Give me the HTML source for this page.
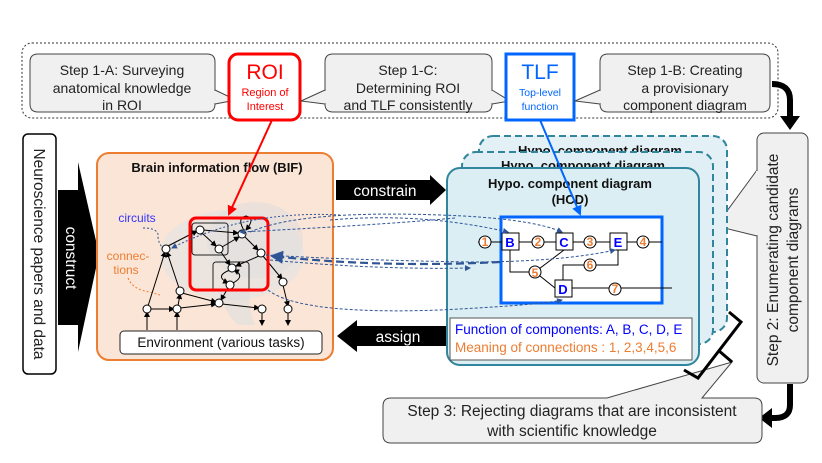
<!DOCTYPE html>
<html><head><meta charset="utf-8"><style>
html,body{margin:0;padding:0;background:#fff}
svg{display:block;font-family:"Liberation Sans",sans-serif}
</style></head><body>
<svg width="822" height="463" viewBox="0 0 822 463" xmlns="http://www.w3.org/2000/svg">
<defs>
<marker id="ab" markerWidth="6" markerHeight="6" refX="5" refY="3" orient="auto"><path d="M0,0 L6,3 L0,6z" fill="#000"/></marker>
<marker id="ad" markerWidth="6" markerHeight="6" refX="5" refY="3" orient="auto"><path d="M0,0 L6,3 L0,6z" fill="#2f5597"/></marker>
<marker id="ar" markerWidth="5" markerHeight="5" refX="4" refY="2.5" orient="auto"><path d="M0,0 L5,2.5 L0,5z" fill="#f00"/></marker>
<marker id="abl" markerWidth="5" markerHeight="5" refX="4" refY="2.5" orient="auto"><path d="M0,0 L5,2.5 L0,5z" fill="#0066ff"/></marker>
</defs>

<rect x="22" y="43" width="756" height="75" rx="10" fill="none" stroke="#333" stroke-dasharray="2,2"/>

<path d="M38,54 H207 Q215,54 215,62 V104 Q215,112 207,112 H38 Q30,112 30,104 V62 Q30,54 38,54Z" fill="#f0f0f0" stroke="#444"/>
<path d="M215,90 L236,100 L215,104" fill="#f0f0f0" stroke="#444"/>
<rect x="213" y="91" width="3" height="12" fill="#f0f0f0"/>
<text x="122" y="75" font-size="14" text-anchor="middle" fill="#222">Step 1-A: Surveying</text>
<text x="122" y="93" font-size="14" text-anchor="middle" fill="#222">anatomical knowledge</text>
<text x="122" y="110" font-size="14" text-anchor="middle" fill="#222">in ROI</text>

<rect x="229" y="54" width="71" height="66" rx="9" fill="#fff" stroke="#f00" stroke-width="3"/>
<text x="265" y="79" font-size="21" text-anchor="middle" fill="#f00">ROI</text>
<text x="265" y="96" font-size="11" text-anchor="middle" fill="#f00">Region of</text>
<text x="265" y="110" font-size="11" text-anchor="middle" fill="#f00">Interest</text>

<path d="M333,54 H484 Q492,54 492,62 V104 Q492,112 484,112 H333 Q325,112 325,104 V62 Q325,54 333,54Z" fill="#f0f0f0" stroke="#444"/>
<path d="M325,90 L301,101 L325,104" fill="#f0f0f0" stroke="#444"/>
<rect x="324" y="91" width="3" height="12" fill="#f0f0f0"/>
<path d="M492,90 L510,101 L492,104" fill="#f0f0f0" stroke="#444"/>
<rect x="490" y="91" width="3" height="12" fill="#f0f0f0"/>
<text x="408" y="75" font-size="14" text-anchor="middle" fill="#222">Step 1-C:</text>
<text x="408" y="93" font-size="14" text-anchor="middle" fill="#222">Determining ROI</text>
<text x="408" y="110" font-size="14" text-anchor="middle" fill="#222">and TLF consistently</text>

<rect x="506" y="54" width="68" height="66" fill="#fff" stroke="#0066ff" stroke-width="3"/>
<text x="540" y="79" font-size="21" text-anchor="middle" fill="#0066ff">TLF</text>
<text x="540" y="96" font-size="10.5" text-anchor="middle" fill="#0066ff">Top-level</text>
<text x="540" y="110" font-size="10.5" text-anchor="middle" fill="#0066ff">function</text>

<path d="M608,54 H762 Q770,54 770,62 V104 Q770,112 762,112 H608 Q600,112 600,104 V62 Q600,54 608,54Z" fill="#f0f0f0" stroke="#444"/>
<path d="M600,90 L575,101 L600,104" fill="#f0f0f0" stroke="#444"/>
<rect x="599" y="91" width="3" height="12" fill="#f0f0f0"/>
<text x="685" y="75" font-size="14" text-anchor="middle" fill="#222">Step 1-B: Creating</text>
<text x="685" y="93" font-size="14" text-anchor="middle" fill="#222">a provisionary</text>
<text x="685" y="110" font-size="14" text-anchor="middle" fill="#222">component diagram</text>

<path d="M772,84 Q790,84 790,100 V118" fill="none" stroke="#000" stroke-width="6"/>
<path d="M780,116 L800,116 L790,130Z" fill="#000"/>

<rect x="757" y="133" width="51" height="250" rx="7" fill="#f0f0f0" stroke="#444"/>
<path d="M757,170 L716,226 L757,236" fill="#f0f0f0" stroke="#444"/>
<rect x="756" y="171" width="3" height="64" fill="#f0f0f0"/>
<text transform="translate(778,260) rotate(-90)" font-size="15.5" text-anchor="middle" fill="#222">Step 2: Enumerating candidate</text>
<text transform="translate(798,260) rotate(-90)" font-size="15.5" text-anchor="middle" fill="#222">component diagrams</text>

<path d="M790,384 V405 Q790,418 775,418 H770" fill="none" stroke="#000" stroke-width="6"/>
<path d="M772,408 L772,428 L759,418Z" fill="#000"/>

<rect x="23" y="134" width="33" height="240" rx="5" fill="#fff" stroke="#000" stroke-width="1.5"/>
<text transform="translate(34,254) rotate(90)" font-size="15.5" text-anchor="middle" fill="#222">Neuroscience papers and data</text>
<path d="M58,190 H78 V162 L99,254 L78,352 V325 H58Z" fill="#000"/>
<text transform="translate(66,258) rotate(90)" font-size="15.5" text-anchor="middle" fill="#fff">construct</text>

<rect x="97" y="153" width="236" height="207" rx="12" fill="#fbe5d6" stroke="#ed7d31" stroke-width="2"/>
<text x="217" y="172" font-size="13" font-weight="bold" text-anchor="middle" fill="#111">Brain information flow (BIF)</text>
<ellipse cx="232" cy="255" rx="72" ry="45" fill="#e2e2e2" opacity="0.6"/>
<ellipse cx="255" cy="240" rx="48" ry="38" fill="#dedede" opacity="0.5"/>
<path d="M218,290 Q226,315 238,325 L255,325 Q248,308 250,292Z" fill="#dedede" opacity="0.6"/>

<text x="137" y="222" font-size="12" text-anchor="middle" fill="#3333ff">circuits</text>
<text x="128" y="260" font-size="12" text-anchor="middle" fill="#ed7d31">connec-</text>
<text x="126" y="274" font-size="12" text-anchor="middle" fill="#ed7d31">tions</text>
<path d="M143,228 Q160,228 158,238 Q160,248 166,249" fill="none" stroke="#2f5597" stroke-dasharray="2,2"/>
<path d="M128,278 Q133,290 150,292 L160,295" fill="none" stroke="#ed7d31" stroke-dasharray="2,2"/>

<rect x="192" y="223" width="36" height="32" rx="3" fill="none" stroke="#222"/>
<rect x="213" y="262" width="36" height="29" rx="3" fill="none" stroke="#222"/>

<g stroke="#000" stroke-width="1" fill="none" marker-end="url(#ab)">
<line x1="203" y1="230" x2="238" y2="233"/>
<line x1="202" y1="233" x2="216" y2="246"/>
<line x1="222" y1="247" x2="239" y2="237"/>
<line x1="245" y1="237" x2="258" y2="250"/>
<line x1="259" y1="256" x2="236" y2="266"/>
<line x1="221" y1="252" x2="230" y2="265"/>
<line x1="228" y1="288" x2="221" y2="300"/>
<line x1="263" y1="256" x2="282" y2="279"/>
<line x1="283" y1="285" x2="288" y2="306"/>
<line x1="168" y1="246" x2="197" y2="231"/>
<line x1="148" y1="306" x2="165" y2="252"/>
<line x1="179" y1="288" x2="167" y2="252"/>
<line x1="150" y1="309" x2="174" y2="309"/>
<line x1="178" y1="306" x2="180" y2="294"/>
<line x1="182" y1="293" x2="216" y2="302"/>
<line x1="180" y1="308" x2="216" y2="304"/>
<line x1="222" y1="304" x2="259" y2="308"/>
<line x1="147" y1="330" x2="147" y2="312"/>
<line x1="177" y1="330" x2="177" y2="312"/>
<line x1="262" y1="312" x2="262" y2="325"/>
<line x1="288" y1="312" x2="288" y2="325"/>
<path d="M245,232 Q236,218 246,216 Q256,218 246,230"/>
<path d="M230,270 Q214,276 228,283"/>
<path d="M233,283 Q246,276 234,270"/>
</g>
<g fill="#fff" stroke="#000">
<circle cx="200" cy="230" r="4"/><circle cx="242" cy="234" r="4"/><circle cx="219" cy="249" r="4"/>
<circle cx="261" cy="253" r="4"/><circle cx="166" cy="249" r="4"/><circle cx="232" cy="268" r="4"/>
<circle cx="230" cy="285" r="4"/><circle cx="283" cy="282" r="4"/><circle cx="180" cy="291" r="4"/>
<circle cx="219" cy="303" r="4"/><circle cx="147" cy="309" r="4"/><circle cx="177" cy="309" r="4"/>
<circle cx="262" cy="309" r="4"/><circle cx="288" cy="309" r="4"/>
</g>
<rect x="190" y="218" width="78" height="72" rx="6" fill="none" stroke="#f00" stroke-width="3"/>
<rect x="120" y="331" width="202" height="23" rx="4" fill="#fff" stroke="#222"/>
<text x="221" y="347" font-size="13.5" text-anchor="middle" fill="#111">Environment (various tasks)</text>

<path d="M336,180 H430 V175 L446,190 L430,205 V200 H336Z" fill="#000"/>
<text x="385" y="196" font-size="15.5" text-anchor="middle" fill="#fff">constrain</text>
<path d="M446,326 H357 V320 L337,336 L357,352 V346 H446Z" fill="#000"/>
<text x="398" y="342" font-size="15.5" text-anchor="middle" fill="#fff">assign</text>

<rect x="479" y="136" width="248" height="196" rx="14" fill="#e3f1f6" stroke="#31859c" stroke-width="2" stroke-dasharray="7,4"/>
<text x="600" y="155" font-size="13" font-weight="bold" text-anchor="middle" fill="#111">Hypo. component diagram</text>
<rect x="462" y="152" width="251" height="192" rx="14" fill="#e0eff5" stroke="#31859c" stroke-width="2" stroke-dasharray="7,4"/>
<text x="583" y="170" font-size="13" font-weight="bold" text-anchor="middle" fill="#111">Hypo. component diagram</text>
<rect x="447" y="168" width="252" height="197" rx="13" fill="#dbeef4" stroke="#31859c" stroke-width="2"/>
<text x="570" y="188" font-size="13" font-weight="bold" text-anchor="middle" fill="#111">Hypo. component diagram</text>
<text x="570" y="204" font-size="13" font-weight="bold" text-anchor="middle" fill="#111">(HCD)</text>

<rect x="501" y="217" width="161" height="86" fill="#fff" stroke="#0066ff" stroke-width="3"/>
<g stroke="#000" stroke-width="1" fill="none">
<line x1="478" y1="242" x2="662" y2="242"/>
<path d="M510,250 V272 H535 L555,288"/>
<line x1="535" y1="272" x2="564" y2="250"/>
<path d="M563,281 V265 H618 V250"/>
<line x1="570" y1="288" x2="672" y2="288"/>
</g>
<g fill="#fff" stroke="#000">
<rect x="502" y="233" width="17" height="17"/><rect x="556" y="233" width="17" height="17"/>
<rect x="610" y="233" width="17" height="17"/><rect x="555" y="280" width="17" height="17"/>
</g>
<g font-size="13" font-weight="bold" fill="#0000ff" text-anchor="middle">
<text x="510" y="247">B</text><text x="564" y="247">C</text><text x="618" y="247">E</text><text x="563" y="294">D</text>
</g>
<g fill="#fff" stroke="#000">
<circle cx="485" cy="242" r="6"/><circle cx="538" cy="242" r="6"/><circle cx="590" cy="242" r="6"/>
<circle cx="643" cy="242" r="6"/><circle cx="535" cy="272" r="6"/><circle cx="590" cy="265" r="6"/><circle cx="615" cy="289" r="6"/>
</g>
<g font-size="12" font-weight="bold" fill="#ed7d31" text-anchor="middle">
<text x="485" y="246">1</text><text x="538" y="246">2</text><text x="590" y="246">3</text><text x="643" y="246">4</text>
<text x="535" y="277">5</text><text x="590" y="269">6</text><text x="615" y="293">7</text>
</g>

<g fill="none" stroke="#2f5597" stroke-width="1" stroke-dasharray="3,2" marker-end="url(#ad)">
<path d="M330,220 Q420,212 508,232"/>
<path d="M250,232 Q300,210 440,215 Q530,218 562,232"/>
<path d="M266,255 Q350,260 470,262 Q560,262 615,250"/>
<path d="M270,260 Q380,270 470,268"/>
<path d="M268,290 Q300,315 440,310 Q540,305 562,300"/>
<path d="M455,218 Q380,225 240,232"/>
</g>
<path d="M500,262 Q380,268 272,256" fill="none" stroke="#2f5597" stroke-width="2.2" stroke-dasharray="8,4" marker-end="url(#ad)"/>
<path d="M340,215 Q245,210 172,248" fill="none" stroke="#2f5597" stroke-dasharray="2,2" marker-end="url(#ad)"/>

<rect x="450" y="318" width="242" height="42" fill="#fff" stroke="#555"/>
<text x="455" y="334" font-size="13.5" fill="#0000ff">Function of components: A, B, C, D, E</text>
<text x="455" y="352" font-size="13.5" fill="#ed7d31">Meaning of connections :  1, 2,3,4,5,6</text>

<line x1="272" y1="120" x2="229" y2="214" stroke="#f00" stroke-width="2" marker-end="url(#ar)"/>
<line x1="540" y1="120" x2="580" y2="214" stroke="#0066ff" stroke-width="2" marker-end="url(#abl)"/>

<path d="M391,398 H607 L732,362 L702,398 H754 Q762,398 762,406 V435 Q762,443 754,443 H391 Q383,443 383,435 V406 Q383,398 391,398Z" fill="#f0f0f0" stroke="#444"/>
<text x="572" y="416" font-size="15.5" text-anchor="middle" fill="#222">Step 3: Rejecting diagrams that are inconsistent</text>
<text x="572" y="436" font-size="15.5" text-anchor="middle" fill="#222">with scientific knowledge</text>

<path d="M729,312 L741,322 L698,378 L684,370" fill="none" stroke="#000" stroke-width="3"/>
<line x1="718" y1="350" x2="732" y2="362" stroke="#000" stroke-width="3"/>
</svg>
</body></html>
